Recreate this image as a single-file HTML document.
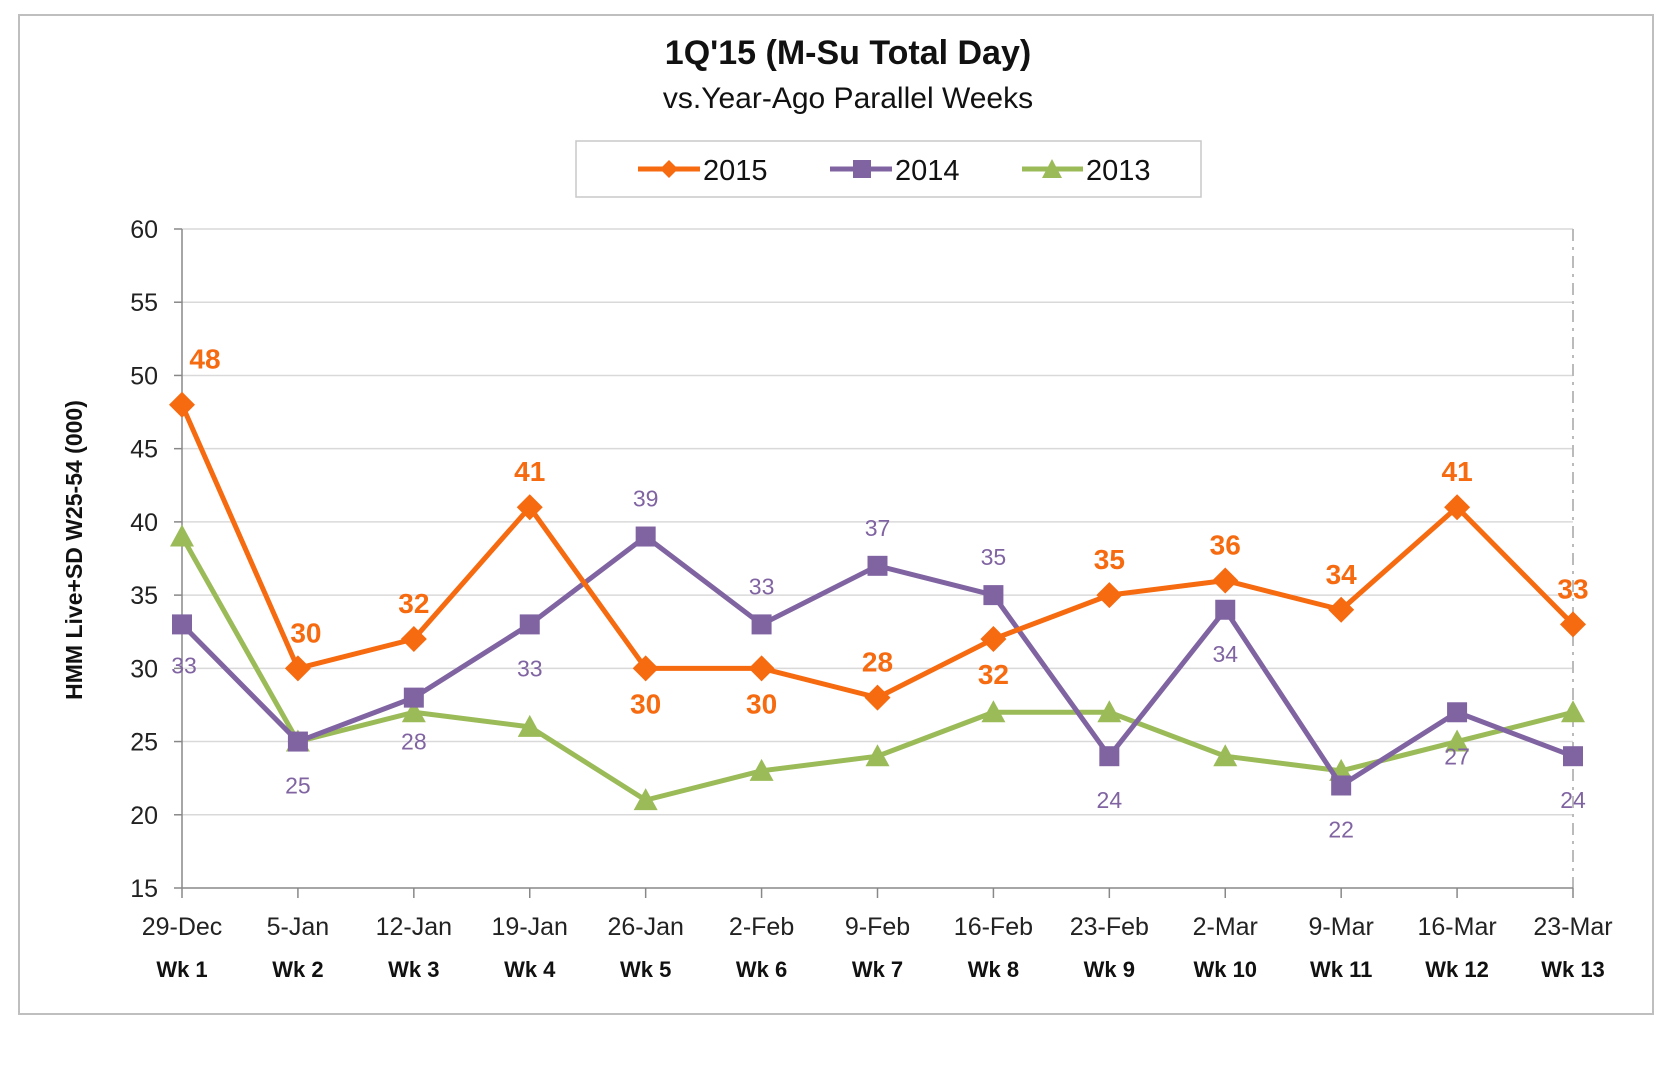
<!DOCTYPE html>
<html><head><meta charset="utf-8"><style>
body{margin:0;background:#fff;}
svg text{font-family:"Liberation Sans",sans-serif;}
</style></head><body>
<svg width="1659" height="1069" viewBox="0 0 1659 1069">
<rect x="19" y="15" width="1634" height="999" fill="#fff" stroke="#bfbfbf" stroke-width="2"/>
<text x="848" y="64" text-anchor="middle" font-size="34" font-weight="bold" fill="#111">1Q'15 (M-Su Total Day)</text>
<text x="848" y="108" text-anchor="middle" font-size="30" fill="#111">vs.Year-Ago Parallel Weeks</text>
<g>
<rect x="576" y="141" width="625" height="56" fill="#fff" stroke="#c8c8c8" stroke-width="1.5"/>
<g><line x1="638" y1="169" x2="700" y2="169" stroke="#f66a10" stroke-width="5"/><polygon points="669,160 678,169 669,178 660,169" fill="#f66a10"/><text x="703" y="180" font-size="29" fill="#111">2015</text></g>
<g><line x1="830" y1="169" x2="892" y2="169" stroke="#8064a2" stroke-width="5"/><rect x="853" y="160" width="18" height="18" fill="#8064a2"/><text x="895" y="180" font-size="29" fill="#111">2014</text></g>
<g><line x1="1022" y1="169" x2="1083" y2="169" stroke="#9bbb59" stroke-width="5"/><polygon points="1052,159 1062,178 1042,178" fill="#9bbb59"/><text x="1086" y="180" font-size="29" fill="#111">2013</text></g>
</g>
<text transform="translate(82,550) rotate(-90)" text-anchor="middle" font-size="23" font-weight="bold" fill="#111">HMM  Live+SD  W25-54 (000)</text>
<g id="grid"></g>
<g id="axes"></g>
<g id="series"></g>
</svg>
<script>
const dates=["29-Dec","5-Jan","12-Jan","19-Jan","26-Jan","2-Feb","9-Feb","16-Feb","23-Feb","2-Mar","9-Mar","16-Mar","23-Mar"];
const weeks=["Wk 1","Wk 2","Wk 3","Wk 4","Wk 5","Wk 6","Wk 7","Wk 8","Wk 9","Wk 10","Wk 11","Wk 12","Wk 13"];
const s2015=[48,30,32,41,30,30,28,32,35,36,34,41,33];
const s2014=[33,25,28,33,39,33,37,35,24,34,22,27,24];
const s2013=[39,25,27,26,21,23,24,27,27,24,23,25,27];
const yTicks=[15,20,25,30,35,40,45,50,55,60];
const pos2015=["r","a","a","a","b","b","a","b","a","a","a","a","a"];
const pos2014=["b","b","b","b","a","a","a","a","b","b","b","b","b"];
const NS="http://www.w3.org/2000/svg";
const x0=182,x1=1573,yBot=888,yTop=229;
function xs(i){return x0+i*(x1-x0)/(dates.length-1);}
function ys(v){return yBot-(v-15)*(yBot-yTop)/45;}
function mk(tag,attrs,parent){const e=document.createElementNS(NS,tag);for(const k in attrs)e.setAttribute(k,attrs[k]);parent.appendChild(e);return e;}
const grid=document.getElementById('grid'),axes=document.getElementById('axes'),ser=document.getElementById('series');
yTicks.forEach(v=>{
 if(v>15){const l=mk('line',{x1:x0,x2:x1,y1:ys(v),y2:ys(v),stroke:'#d9d9d9','stroke-width':1.5},grid);
 
 }
 const tk=mk('line',{x1:x0-8,x2:x0,y1:ys(v),y2:ys(v),stroke:'#888','stroke-width':1.5},axes);
 
 
 const t=mk('text',{x:x0-24,y:ys(v)+9,'text-anchor':'end','font-size':25,fill:'#222'},axes);t.textContent=v;
 
 
});
const vl=mk('line',{x1:x1,x2:x1,y1:yTop,y2:yBot,stroke:'#bbb','stroke-width':2,'stroke-dasharray':'12,6,3,6'},grid);


const ya=mk('line',{x1:x0,x2:x0,y1:yTop,y2:yBot,stroke:'#888','stroke-width':1.5},axes);


const xa=mk('line',{x1:x0,x2:x1,y1:yBot,y2:yBot,stroke:'#888','stroke-width':1.5},axes);


dates.forEach((d,i)=>{
 const tk=mk('line',{x1:xs(i),x2:xs(i),y1:yBot,y2:yBot+10,stroke:'#888','stroke-width':1.5},axes);
 
 
 const t=mk('text',{x:xs(i),y:935,'text-anchor':'middle','font-size':25,fill:'#222'},axes);t.textContent=d;
 
 
 const w=mk('text',{x:xs(i),y:977,'text-anchor':'middle','font-size':22,'font-weight':'bold',fill:'#111'},axes);w.textContent=weeks[i];
 
 
});
function series(vals,color,name,shape,labels,lblStyle,above,below){
 const g=mk('g',{},ser);
 
 
 const pl=mk('polyline',{points:vals.map((v,i)=>xs(i)+','+ys(v)).join(' '),fill:'none',stroke:color,'stroke-width':5,'stroke-linejoin':'round'},g);
 
 
 vals.forEach((v,i)=>{
  const x=xs(i),y=ys(v);let m;
  if(shape==='d')m=mk('polygon',{points:`${x},${y-13} ${x+13},${y} ${x},${y+13} ${x-13},${y}`,fill:color},g);
  else if(shape==='s')m=mk('rect',{x:x-10,y:y-10,width:20,height:20,fill:color},g);
  else m=mk('polygon',{points:`${x},${y-12} ${x+12},${y+10} ${x-12},${y+10}`,fill:color},g);
  
  
  if(labels){
   let lx=x,ly=labels[i]==='a'?y-above:y+below;
   if(name==='2015'&&i===0){lx=x+23;ly=y-36;}
   if(name==='2015'&&i===1){lx=x+8;}
   if(name==='2014'&&i===0){ly=y+49;lx=x+2;}
   const t=mk('text',{x:lx,y:ly,'text-anchor':'middle',fill:color,...lblStyle},g);t.textContent=v;
   
   
  }
 });
}
series(s2013,'#9bbb59','2013','t',null,{},0,0);
series(s2014,'#8064a2','2014','s',pos2014,{'font-size':23},30,52);
series(s2015,'#f66a10','2015','d',pos2015,{'font-size':28,'font-weight':'bold'},26,45);
</script>
</body></html>
